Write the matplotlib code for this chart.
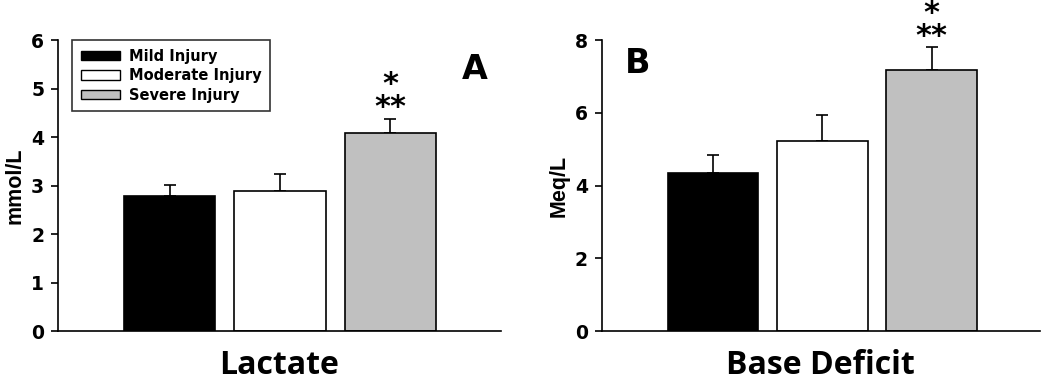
import numpy as np
import matplotlib.pyplot as plt
from matplotlib.patches import Patch

groups = ['Mild Injury', 'Moderate Injury', 'Severe Injury']
colors = ['#000000', '#ffffff', '#c0c0c0']

lactate_mean = [2.79, 2.89, 4.08]
lactate_sem = [0.23, 0.34, 0.30]
bd_mean = [4.34, 5.21, 7.18]
bd_sem = [0.50, 0.72, 0.62]

plt.rcParams['font.family'] = ['DejaVu Sans']
plt.rcParams['font.weight'] = 'bold'

fig = plt.figure(figsize=(10.5, 3.81), dpi=100)
ax1 = fig.add_axes([0.0552, 0.1312, 0.4219, 0.7638])
ax2 = fig.add_axes([0.5730, 0.1312, 0.4174, 0.7638])


def draw_panel(ax, means, sems, ymax, xlim, ylabel, xlabel):
    x = np.arange(len(means))
    ax.bar(x, means, width=0.83, color=colors, edgecolor='black', linewidth=1.2, zorder=2)
    ax.errorbar(x, means, yerr=[np.zeros(len(sems)), sems], fmt='none',
                ecolor='black', elinewidth=1.2, capsize=4.5, capthick=1.2, zorder=1)
    ax.set_xlim(xlim)
    ax.set_ylim(0, ymax)
    ax.set_xticks([])
    for s in ['top', 'right']:
        ax.spines[s].set_visible(False)
    for s in ['left', 'bottom']:
        ax.spines[s].set_linewidth(1.2)
    ax.tick_params(axis='y', direction='out', length=5, width=1.2, labelsize=13.5, pad=5)
    ax.set_ylabel(ylabel, fontsize=15.5, fontweight='bold', family=['Liberation Sans'], labelpad=4)
    ax.set_xlabel(xlabel, fontsize=23, fontweight='bold', family=['Open Sans', 'DejaVu Sans'], labelpad=13)
    # significance stars over the severe bar (one text, two lines)
    top = means[2] + sems[2]
    ax.annotate('*\n**', (2, top), xytext=(0, 2), textcoords='offset points',
                ha='center', va='baseline', multialignment='center',
                linespacing=0.72, fontsize=22, fontweight='bold')


draw_panel(ax1, lactate_mean, lactate_sem, 6, (-1.01, 3.0), 'mmol/L', 'Lactate')
ax1.set_yticks(range(0, 7))
draw_panel(ax2, bd_mean, bd_sem, 8, (-1.02, 2.99), 'Meq/L', 'Base Deficit')
ax2.set_yticks(range(0, 9, 2))

ax1.text(0.94, 0.90, 'A', transform=ax1.transAxes, fontsize=24, fontweight='bold', ha='center', va='center')
ax2.text(0.083, 0.92, 'B', transform=ax2.transAxes, fontsize=24, fontweight='bold', ha='center', va='center')

handles = [Patch(facecolor=c, edgecolor='black', linewidth=1.0) for c in colors]
leg = ax1.legend(handles, groups, loc='upper left', bbox_to_anchor=(0.032, 1.0),
                 fontsize=10.5, frameon=True, fancybox=False, edgecolor='black',
                 handlelength=2.7, handleheight=0.6, handletextpad=0.6,
                 labelspacing=0.3, borderpad=0.6, borderaxespad=0.0)
leg.get_frame().set_linewidth(1.2)

fig.savefig('out.png', dpi=100)
